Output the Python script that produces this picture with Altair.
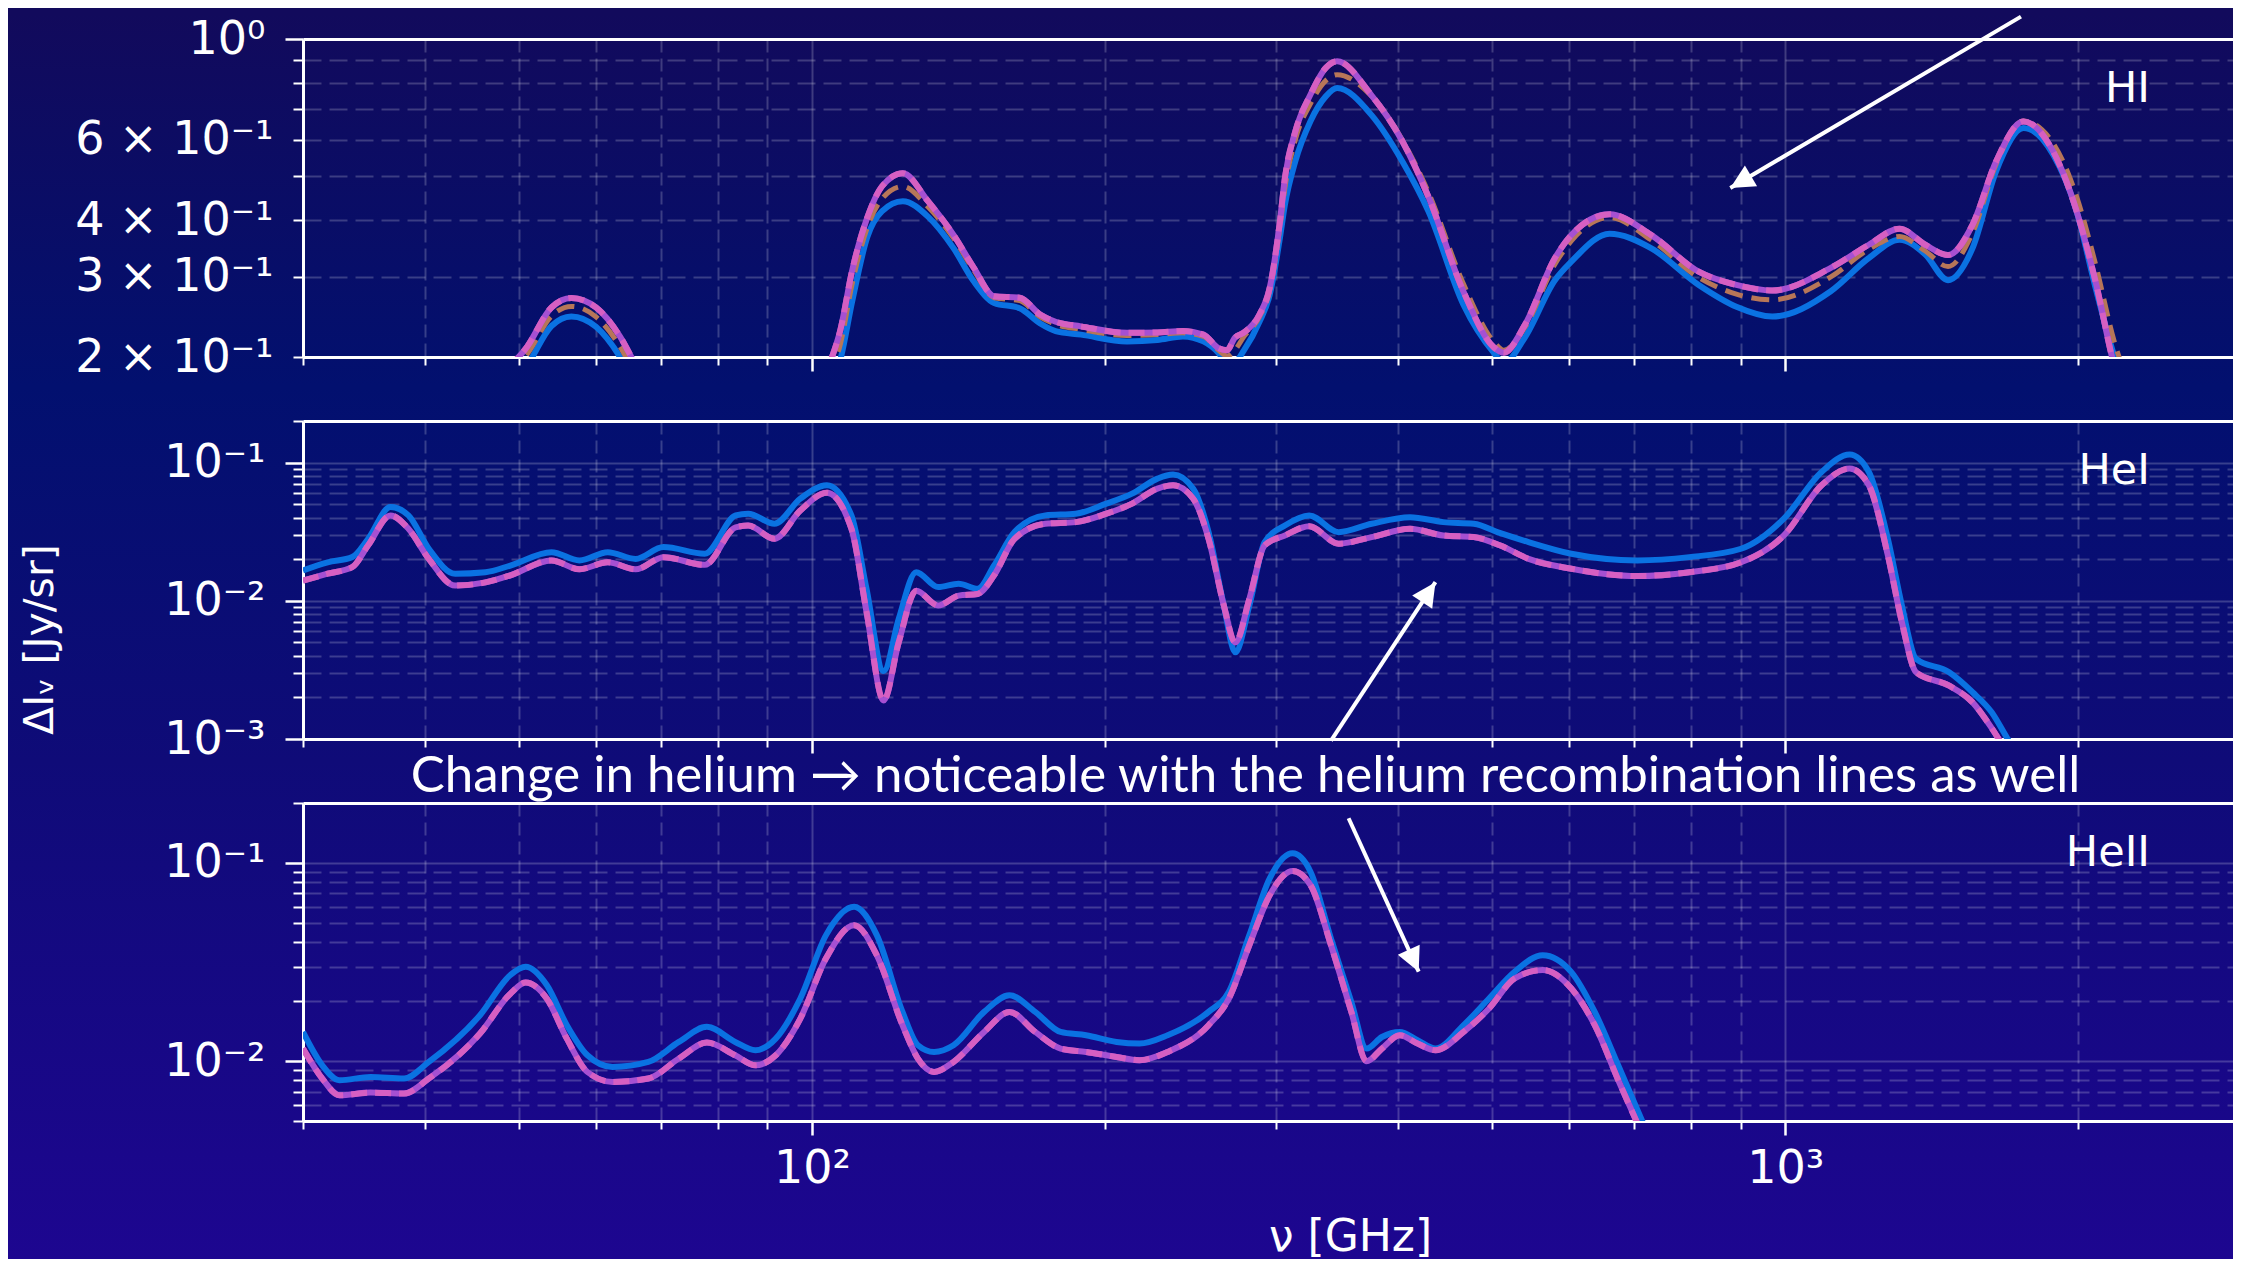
import altair as alt
import pandas as pd

# ---------------------------------------------------------------- data
nu_HI = [30, 40, 46, 51, 54, 56.6, 60, 63.5, 66, 75,
         90, 100, 104, 107, 110, 114, 118, 124, 131.6, 139.8,
         146.7, 153.9, 163.5, 171.6, 178, 189, 210.7, 226.5, 240.6, 252.5,
         261.8, 267, 272, 278, 288.3, 295.4, 302.6, 306.2, 313.8, 325.2,
         337.3, 346.5, 375.5, 404.3, 430, 467, 502, 514, 540, 580,
         603, 660, 728, 815, 891, 970, 1114, 1219, 1311, 1393,
         1470, 1558, 1647, 1757, 1885, 1993, 2084, 2180, 2300, 2600,
         2900]
HI_blue = [0.100, 0.120, 0.155, 0.192, 0.234, 0.2456, 0.233, 0.200, 0.171, 0.120,
           0.110, 0.140, 0.172, 0.198, 0.265, 0.367, 0.418, 0.440, 0.407, 0.347,
           0.293, 0.263, 0.256, 0.237, 0.228, 0.224, 0.2164, 0.218, 0.222, 0.2164,
           0.204, 0.194, 0.195, 0.207, 0.239, 0.274, 0.365, 0.432, 0.538, 0.659,
           0.748, 0.780, 0.682, 0.538, 0.418, 0.261, 0.2044, 0.194, 0.2205, 0.295,
           0.324, 0.373, 0.347, 0.288, 0.258, 0.2455, 0.279, 0.330, 0.362, 0.336,
           0.295, 0.347, 0.512, 0.637, 0.557, 0.418, 0.284, 0.200, 0.150, 0.100,
           0.070]
HI_brown = [0.100, 0.125, 0.163, 0.203, 0.246, 0.2584, 0.245, 0.211, 0.181, 0.125,
            0.112, 0.145, 0.180, 0.214, 0.290, 0.385, 0.445, 0.474, 0.428, 0.365,
            0.310, 0.270, 0.266, 0.245, 0.236, 0.230, 0.223, 0.224, 0.226, 0.222,
            0.207, 0.201, 0.207, 0.222, 0.245, 0.280, 0.385, 0.470, 0.600, 0.720,
            0.810, 0.835, 0.750, 0.600, 0.460, 0.290, 0.216, 0.207, 0.232, 0.320,
            0.360, 0.405, 0.362, 0.299, 0.275, 0.267, 0.300, 0.345, 0.368, 0.342,
            0.316, 0.375, 0.530, 0.660, 0.590, 0.450, 0.320, 0.215, 0.160, 0.100,
            0.070]
HI_purple = [0.105, 0.130, 0.170, 0.211, 0.257, 0.2695, 0.257, 0.222, 0.191, 0.130,
             0.115, 0.150, 0.190, 0.230, 0.310, 0.405, 0.474, 0.507, 0.440, 0.371,
             0.314, 0.272, 0.270, 0.248, 0.239, 0.2335, 0.226, 0.2265, 0.228, 0.224,
             0.209, 0.207, 0.2205, 0.2265, 0.248, 0.284, 0.397, 0.495, 0.626, 0.754,
             0.864, 0.893, 0.754, 0.596, 0.450, 0.279, 0.210, 0.2044, 0.235, 0.330,
             0.371, 0.412, 0.371, 0.308, 0.288, 0.280, 0.314, 0.353, 0.383, 0.353,
             0.335, 0.391, 0.538, 0.659, 0.566, 0.418, 0.293, 0.190, 0.140, 0.090,
             0.060]

nu_HeI = [30, 31.8, 33.7, 35, 36.9, 38.5, 40.4, 43, 46.2, 49,
          54, 57.7, 61.7, 65.9, 70.4, 77.6, 83.5, 86, 91.5, 97.3,
          103.6, 109.8, 113.8, 118.5, 122.8, 128, 134.8, 141.5, 148, 153.9,
          161.5, 173.7, 186.7, 200.7, 213.3, 226.5, 235, 246.5, 255.6, 265,
          272.3, 281.5, 291.9, 306.2, 324.3, 347.7, 375.9, 411.7, 445.3, 478.6,
          509, 545, 603, 705, 797, 901, 997, 1090, 1165, 1219,
          1275, 1318, 1363, 1474, 1558, 1630, 1690, 1800]
HeI_blue = [0.0166, 0.0190, 0.0207, 0.0281, 0.0477, 0.0415, 0.0238, 0.0157, 0.0161, 0.0180,
            0.0225, 0.0196, 0.0225, 0.0201, 0.0245, 0.0219, 0.0415, 0.0427, 0.0361, 0.0548,
            0.0685, 0.0415, 0.0122, 0.0031, 0.0074, 0.0161, 0.01256, 0.01328, 0.0122, 0.0180,
            0.0314, 0.0415, 0.0427, 0.0505, 0.0596, 0.0766, 0.0820, 0.0648, 0.0314, 0.00925,
            0.00424, 0.00925, 0.0266, 0.0351, 0.0415, 0.0314, 0.0361, 0.0403, 0.0371, 0.0361,
            0.0310, 0.0266, 0.0219, 0.0196, 0.0207, 0.0238, 0.0393, 0.0855, 0.1143, 0.0855,
            0.0281, 0.00925, 0.0038, 0.00304, 0.00218, 0.00156, 0.00102, 0.0005]
HeI_pink = [0.0140, 0.0157, 0.0175, 0.0252, 0.0415, 0.0332, 0.0201, 0.0129, 0.0136, 0.0153,
            0.0196, 0.0169, 0.0190, 0.0169, 0.0207, 0.0182, 0.0340, 0.0350, 0.0281, 0.0450,
            0.0606, 0.0332, 0.0083, 0.0019, 0.0050, 0.0118, 0.00925, 0.0109, 0.0112, 0.0153,
            0.0281, 0.0361, 0.0371, 0.0427, 0.0505, 0.0648, 0.0685, 0.0548, 0.0281, 0.00925,
            0.0050, 0.01034, 0.0252, 0.0297, 0.0347, 0.0259, 0.0289, 0.0332, 0.0297, 0.0289,
            0.0252, 0.0201, 0.01706, 0.0151, 0.0161, 0.0190, 0.0297, 0.0685, 0.0905, 0.0685,
            0.0213, 0.0070, 0.00304, 0.00243, 0.00184, 0.0012, 0.0008, 0.0004]

nu_HeII = [30, 31.4, 32.7, 35.2, 38.1, 40.4, 45.6, 49, 50.8, 53.4,
           56, 58.8, 62.4, 67.9, 73, 78, 83.4, 87.5, 91.8, 97.3,
           103.4, 110.5, 116.6, 123.9, 128.5, 133.5, 139.8, 150.3, 159.6, 169.6,
           180.1, 191.3, 205.6, 217.1, 232, 255.6, 268.2, 281.5, 295.4, 311.8,
           325.3, 341.4, 358.3, 371.5, 385.2, 401.8, 419.1, 437.2, 467.3, 496.3,
           527.2, 563.5, 602.7, 637.3, 674, 713, 760, 850]
HeII_blue = [0.01405, 0.00954, 0.00802, 0.00833, 0.00818, 0.00992, 0.01706, 0.0272, 0.0299, 0.0242,
             0.0152, 0.01072, 0.00936, 0.00992, 0.01251, 0.0149, 0.01251, 0.01136, 0.0130, 0.0207,
             0.0432, 0.0600, 0.0432, 0.01773, 0.01204, 0.01114, 0.01204, 0.01773, 0.0215, 0.01773,
             0.01405, 0.01352, 0.01251, 0.01228, 0.01352, 0.01773, 0.0224, 0.0432, 0.0834, 0.1115,
             0.0901, 0.0416, 0.0199, 0.01159, 0.01325, 0.01405, 0.01276, 0.01159, 0.0152, 0.0207,
             0.0282, 0.0342, 0.0282, 0.01773, 0.0095, 0.0050, 0.0025, 0.0010]
HeII_pink = [0.01159, 0.00818, 0.00674, 0.00695, 0.00687, 0.00818, 0.01379, 0.0219, 0.0249, 0.0207,
             0.0130, 0.00883, 0.00786, 0.00818, 0.01032, 0.01242, 0.01072, 0.00954, 0.01072, 0.01641,
             0.0330, 0.0485, 0.0342, 0.0152, 0.01032, 0.00883, 0.00992, 0.01405, 0.01773, 0.01405,
             0.01159, 0.01114, 0.01051, 0.01012, 0.01114, 0.0152, 0.0207, 0.0385, 0.0687, 0.0908,
             0.0772, 0.0385, 0.01773, 0.0100, 0.01159, 0.01352, 0.01228, 0.01136, 0.01405, 0.01844,
             0.0261, 0.0288, 0.0233, 0.0152, 0.0080, 0.0043, 0.0022, 0.0010]

panel_names = ["HI", "HeI", "HeII"]

x_major_ticks = [100, 1000]
x_major_labels = ["10²", "10³"]
x_minor_ticks = [30, 40, 50, 60, 70, 80, 90, 200, 300, 400, 500, 600, 700, 800, 900, 2000]

HI_y_major = [1.0]
HI_y_major_labels = ["10⁰"]
HI_y_minor = [0.2, 0.3, 0.4, 0.5, 0.6, 0.7, 0.8, 0.9]
HI_y_minor_labels = ["2 × 10⁻¹", "3 × 10⁻¹", "4 × 10⁻¹", "", "6 × 10⁻¹", "", "", ""]

HeI_y_major = [0.001, 0.01, 0.1]
HeI_y_major_labels = ["10⁻³", "10⁻²", "10⁻¹"]
HeI_y_minor = [0.002, 0.003, 0.004, 0.005, 0.006, 0.007, 0.008, 0.009,
               0.02, 0.03, 0.04, 0.05, 0.06, 0.07, 0.08, 0.09, 0.2]

HeII_y_major = [0.01, 0.1]
HeII_y_major_labels = ["10⁻²", "10⁻¹"]
HeII_y_minor = [0.005, 0.006, 0.007, 0.008, 0.009,
                0.02, 0.03, 0.04, 0.05, 0.06, 0.07, 0.08, 0.09, 0.2]

x_title = "ν  [GHz]"
y_title = "ΔIᵥ  [Jy/sr]"
note_text = "Change in helium → noticeable with the helium recombination lines as well"

# arrows: (tail nu, head nu), (tail value, head value)
arrow_HI_nu, arrow_HI_val = [1747, 878.3], [1.12, 0.4705]
arrow_HeI_nu, arrow_HeI_val = [341.5, 437.2], [0.000972, 0.01364]
arrow_HeII_nu, arrow_HeII_val = [356.0, 420.2], [0.1675, 0.02828]

# ---------------------------------------------------------------- style
XMAX = 2885
PLOT_W = 1930
PANEL_H = 318
FONT = "DejaVu Sans"
WHITE = "#ffffff"
C_BLUE = "#0a72e2"
C_PURPLE = "#a650d2"
C_PINK = "#d65fc2"
C_BROWN = "#b77658"
HEAD = "M0,0L1,2L-1,2Z"
TICK_FS = 46


def label_expr(values, labels):
    parts = [f"datum.value == {v} ? '{l}'" for v, l in zip(values, labels)]
    return " : ".join(parts) + " : ''"


def x_major_axis(bottom):
    kw = dict(orient="bottom", values=x_major_ticks, tickSize=14, tickWidth=2.5,
              domain=True, grid=True, labels=bottom,
              labelExpr=label_expr(x_major_ticks, x_major_labels),
              labelPadding=11, labelFontSize=TICK_FS)
    if bottom:
        kw.update(title=x_title, titleX=1047, titleY=94, titleBaseline="top",
                  titleAlign="center", titleFontSize=44)
    else:
        kw.update(title=None)
    return alt.Axis(**kw)


def x_minor_axis():
    return alt.Axis(orient="bottom", values=x_minor_ticks, tickSize=8, tickWidth=2,
                    domain=False, grid=True, gridDash=[13, 6], labels=False, title=None)


def x_top_axis():
    return alt.Axis(orient="top", values=x_major_ticks, ticks=False, labels=False,
                    grid=False, domain=True, title=None)


def y_major_axis(vals, labs, grid, title):
    kw = dict(orient="left", values=vals, tickSize=18, tickWidth=2.5, domain=True,
              grid=grid, labelExpr=label_expr(vals, labs), labelPadding=20,
              labelFontSize=TICK_FS)
    if title:
        kw.update(title=y_title, titleX=-263, titleY=218, titleAngle=270,
                  titleBaseline="middle", titleAlign="center", titleFontSize=41)
    else:
        kw.update(title=None)
    return alt.Axis(**kw)


def y_minor_axis(vals, labs):
    kw = dict(orient="left", values=vals, tickSize=10, tickWidth=2, domain=False,
              grid=True, gridDash=[18, 8], title=None)
    if labs is None:
        kw.update(labels=False)
    else:
        kw.update(labelExpr=label_expr(vals, labs), labelPadding=20,
                  labelFontSize=TICK_FS)
    return alt.Axis(**kw)


def build_panel(nu, series, ydom, yaxes, name, arrow_nu, arrow_val, angle,
                bottom=False, extra=None):
    xs = alt.Scale(type="log", domain=[30, XMAX], nice=False)
    ys = alt.Scale(type="log", domain=ydom, nice=False)
    x_axes = [x_major_axis(bottom), x_minor_axis(), x_top_axis()]
    layers = []
    for i, (vals, color, width, dash) in enumerate(series):
        df = pd.DataFrame({"nu": nu, "v": vals})
        mk = dict(clip=True, color=color, strokeWidth=width, interpolate="monotone")
        if dash:
            mk["strokeDash"] = dash
        xa = x_axes[i] if i < 3 else None
        ya = yaxes[i] if i < 2 else None
        layers.append(
            alt.Chart(df).mark_line(**mk).encode(
                x=alt.X("nu:Q", scale=xs, axis=xa),
                y=alt.Y("v:Q", scale=ys, axis=ya),
            )
        )
    # arrow shaft + head (data coordinates)
    adf = pd.DataFrame({"nu": arrow_nu, "v": arrow_val})
    layers.append(
        alt.Chart(adf).mark_line(clip=False, color=WHITE, strokeWidth=4).encode(
            x=alt.X("nu:Q", scale=xs, axis=None), y=alt.Y("v:Q", scale=ys, axis=None)
        )
    )
    hdf = pd.DataFrame({"nu": arrow_nu[1:], "v": arrow_val[1:]})
    layers.append(
        alt.Chart(hdf).mark_point(shape=HEAD, size=576, angle=angle, filled=True,
                                  color=WHITE, opacity=1, strokeWidth=0, clip=False).encode(
            x=alt.X("nu:Q", scale=xs, axis=None), y=alt.Y("v:Q", scale=ys, axis=None)
        )
    )
    # panel name
    layers.append(
        alt.Chart(pd.DataFrame({"t": [name]})).mark_text(
            align="right", baseline="middle", font=FONT, fontSize=43, color=WHITE
        ).encode(text="t:N", x=alt.value(1847), y=alt.value(50))
    )
    if extra is not None:
        layers.append(extra)
    return (alt.layer(*layers)
            .resolve_axis(x="independent", y="independent")
            .properties(width=PLOT_W, height=PANEL_H))


top = build_panel(
    nu_HI,
    [(HI_blue, C_BLUE, 6, None), (HI_brown, C_BROWN, 5, [18, 9]),
     (HI_purple, C_PURPLE, 6, None), (HI_purple, C_PINK, 6, [16, 8])],
    [0.2, 1.0],
    [y_major_axis(HI_y_major, HI_y_major_labels, False, False),
     y_minor_axis(HI_y_minor, HI_y_minor_labels)],
    panel_names[0], arrow_HI_nu, arrow_HI_val, 239.5,
)

note = alt.Chart(pd.DataFrame({"t": [note_text]})).mark_text(
    align="center", baseline="middle", font="Lato", fontSize=51, color=WHITE
).encode(text="t:N", x=alt.value(942.5), y=alt.value(356))

mid = build_panel(
    nu_HeI,
    [(HeI_blue, C_BLUE, 6, None), (HeI_pink, C_PURPLE, 6, None),
     (HeI_pink, C_PINK, 6, [16, 8])],
    [0.001, 0.2],
    [y_major_axis(HeI_y_major, HeI_y_major_labels, True, True),
     y_minor_axis(HeI_y_minor, None)],
    panel_names[1], arrow_HeI_nu, arrow_HeI_val, 33.5, extra=note,
)

bot = build_panel(
    nu_HeII,
    [(HeII_blue, C_BLUE, 6, None), (HeII_pink, C_PURPLE, 6, None),
     (HeII_pink, C_PINK, 6, [16, 8])],
    [0.005, 0.2],
    [y_major_axis(HeII_y_major, HeII_y_major_labels, True, False),
     y_minor_axis(HeII_y_minor, None)],
    panel_names[2], arrow_HeII_nu, arrow_HeII_val, 155.5, bottom=True,
)

gradient = {
    "gradient": "linear", "x1": 0, "y1": 0, "x2": 0, "y2": 1,
    "stops": [
        {"offset": 0.0, "color": "#120a5c"},
        {"offset": 0.30, "color": "#02106f"},
        {"offset": 0.60, "color": "#0f0b78"},
        {"offset": 1.0, "color": "#1d0690"},
    ],
}
bg = alt.Chart(pd.DataFrame({"a": [0]})).mark_rect(fill=gradient, strokeWidth=0).encode(
    x=alt.value(-295), x2=alt.value(PLOT_W), y=alt.value(0), y2=alt.value(1246)
).properties(width=PLOT_W, height=1)

panels = alt.vconcat(top, mid, bot, spacing=64, bounds="flush")

chart = (
    alt.vconcat(bg, panels, spacing=25, bounds="flush",
                padding=0, background="#120a5c")
    .configure_axis(labelColor=WHITE, labelFont=FONT, tickColor=WHITE,
                    domainColor=WHITE, domainWidth=3, gridColor=WHITE,
                    gridOpacity=0.2, gridWidth=2, titleColor=WHITE, titleFont=FONT,
                    titleFontWeight="normal", labelOverlap=False, labelLimit=500)
    .configure_view(strokeOpacity=0)
)

chart.save("out.html", embed_options={"renderer": "svg", "actions": False})
